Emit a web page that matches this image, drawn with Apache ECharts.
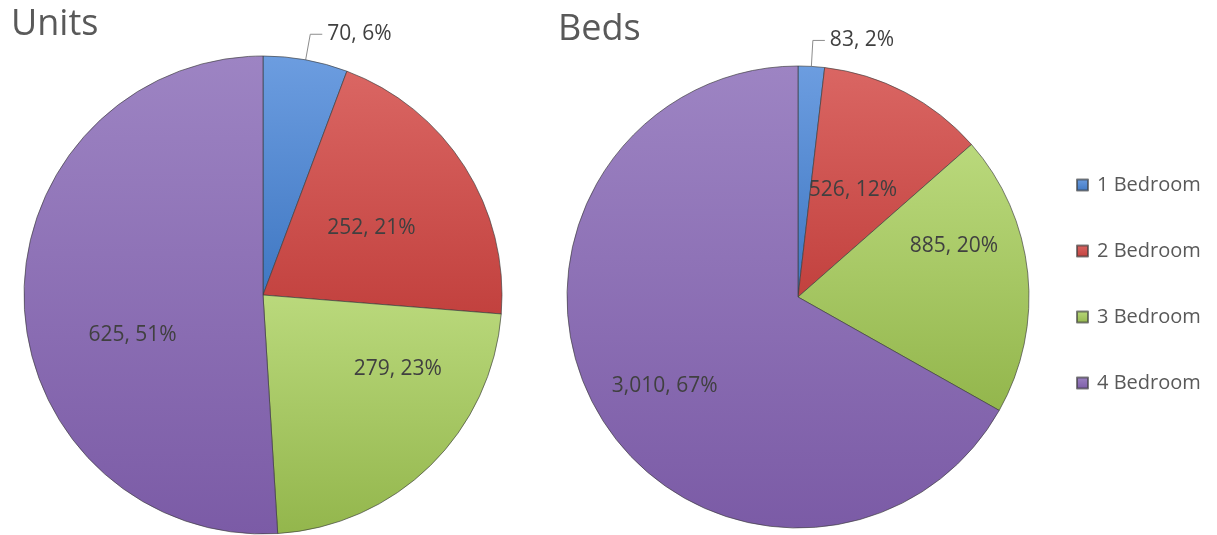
<!DOCTYPE html>
<html>
<head>
<meta charset="utf-8">
<script src="https://cdn.jsdelivr.net/npm/echarts@6/dist/echarts.min.js"></script>
<style>
html,body{margin:0;padding:0;background:#fff;}
#chart{width:1217px;height:535px;}
</style>
</head>
<body>
<div id="chart"></div>
<script>
var categories = ['1 Bedroom', '2 Bedroom', '3 Bedroom', '4 Bedroom'];
var unitsValues = [70, 252, 279, 625];
var bedsValues = [83, 526, 885, 3010];
var chartTitles = ['Units', 'Beds'];

var FONT = '"Open Sans", "DejaVu Sans", sans-serif';
var TXT = '#404040';
var colorPairs = [
  ['#6c9de0', '#3f77c2'],
  ['#da6663', '#c2413e'],
  ['#bad97c', '#93b64c'],
  ['#9d84c3', '#7b5ba6']
];
function grad(i) {
  return {
    type: 'linear', x: 0, y: 0, x2: 0, y2: 1,
    colorStops: [{offset: 0, color: colorPairs[i][0]}, {offset: 1, color: colorPairs[i][1]}]
  };
}
function fmt(v) {
  return v.toLocaleString('en-US');
}
function buildData(values, outsideIdx, offsets) {
  var total = values.reduce(function (a, b) { return a + b; }, 0);
  return values.map(function (v, i) {
    var d = {
      name: categories[i],
      value: v,
      itemStyle: {color: grad(i)},
      label: {
        formatter: fmt(v) + ', ' + Math.round(v / total * 100) + '%'
      }
    };
    if (i === outsideIdx) {
      d.label.position = 'outside';
      d.label.align = 'left';
      d.labelLine = {show: true, length: 26, length2: 12, lineStyle: {color: '#8c8c8c', width: 1}};
    } else {
      d.label.position = 'inside';
      d.label.offset = offsets[i];
      d.labelLine = {show: false};
    }
    return d;
  });
}

var chart = echarts.init(document.getElementById('chart'), null, {renderer: 'canvas'});
var common = {
  type: 'pie',
  startAngle: 90,
  clockwise: true,
  avoidLabelOverlap: false,
  animation: false,
  itemStyle: {borderColor: 'rgba(60,60,60,0.65)', borderWidth: 1},
  label: {
    show: true,
    color: TXT,
    fontFamily: FONT,
    fontSize: 21
  },
  emphasis: {disabled: true}
};
chart.setOption({
  backgroundColor: '#fff',
  title: [
    {text: chartTitles[0], left: 6, top: 2, textStyle: {fontFamily: FONT, fontSize: 36, fontWeight: 'normal', color: '#595959'}},
    {text: chartTitles[1], left: 553, top: 7, textStyle: {fontFamily: FONT, fontSize: 36, fontWeight: 'normal', color: '#595959'}}
  ],
  legend: {
    orient: 'vertical',
    left: 1071,
    top: 170,
    itemWidth: 11,
    itemHeight: 11,
    itemGap: 46,
    icon: 'rect',
    data: categories,
    textStyle: {fontFamily: FONT, fontSize: 20, color: '#595959', padding: [0, 0, 0, 4]},
    selectedMode: false
  },
  series: [
    Object.assign({}, common, {
      name: chartTitles[0],
      center: [263, 295],
      radius: 239,
      data: buildData(unitsValues, 0, [[0, 0], [5, -1], [49, -13], [-8, 36]])
    }),
    Object.assign({}, common, {
      name: chartTitles[1],
      center: [798, 297],
      radius: 231,
      data: buildData(bedsValues, 0, [[0, 0], [0, -2], [38, -39], [-31, 29]])
    })
  ]
});
</script>
</body>
</html>
